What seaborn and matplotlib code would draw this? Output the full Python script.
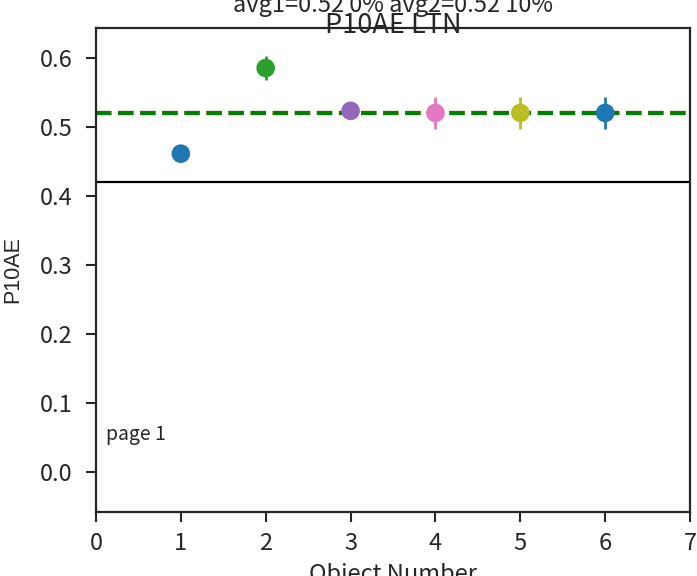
import numpy as np
import pandas as pd
import seaborn as sns
import matplotlib.pyplot as plt

# values
obj_num = [1, 2, 3, 4, 5, 6]
p10ae = [0.461, 0.585, 0.523, 0.520, 0.520, 0.520]
p10ae_err = [0.0, 0.018, 0.0, 0.023, 0.023, 0.023]
point_colors = ["#1f77b4", "#2ca02c", "#9467bd", "#e377c2", "#bcbd22", "#1f77b4"]
avg1 = 0.52
avg2 = 0.52
split_level = 0.42
y_ticks = [0.0, 0.1, 0.2, 0.3, 0.4, 0.5, 0.6]

sns.set_style("ticks")
plt.rcParams["font.family"] = ["Noto Sans CJK SC", "DejaVu Sans"]
plt.rcParams["axes.unicode_minus"] = False

df = pd.DataFrame({"obj": obj_num, "val": p10ae, "err": p10ae_err,
                   "id": [str(i) for i in range(len(obj_num))]})

fig = plt.figure(figsize=(6.97, 5.76), dpi=100)
ax = fig.add_axes([0.1377, 0.111, 0.8523, 0.8404])

for x, y, e, c in zip(df["obj"], df["val"], df["err"], point_colors):
    if e > 0:
        ax.errorbar(x, y, yerr=e, fmt="none", ecolor=c, elinewidth=2, capsize=0)

sns.scatterplot(data=df, x="obj", y="val", hue="id", palette=point_colors,
                s=180, edgecolor="none", legend=False, ax=ax, zorder=3)

# both averages sit on the same level, green drawn over orange
ax.axhline(avg1, color="#ff7f0e", ls="--", lw=3)
ax.axhline(avg2, color="green", ls="--", lw=3)
ax.axhline(split_level, color="black", lw=1.6)

ax.set_xlim(0, 7)
ax.set_ylim(-0.058, 0.643)
ax.set_xticks(range(0, 8))
ax.set_yticks(y_ticks)
ax.tick_params(labelsize=17, length=7, width=1.5)
ax.tick_params(axis="x", pad=7)
ax.tick_params(axis="y", pad=10)
for sp in ax.spines.values():
    sp.set_linewidth(1.6)
    sp.set_visible(True)

ax.set_xlabel("Object Number", fontsize=17)
ax.xaxis.set_label_coords(0.5, -0.105)
ax.set_ylabel("P10AE", fontsize=15.5, family="Liberation Sans")
ax.yaxis.set_label_coords(-0.122, 0.5)
ax.set_title("P10AE LTN", fontsize=19.5, y=1.0, pad=-3.6)
fig.text(0.564, 0.979, "avg1=0.52 0% avg2=0.52 10%", ha="center", va="baseline", fontsize=17)
ax.text(0.12, 0.054, "page 1", fontsize=14, va="center")

fig.savefig("out.png", dpi=100)
